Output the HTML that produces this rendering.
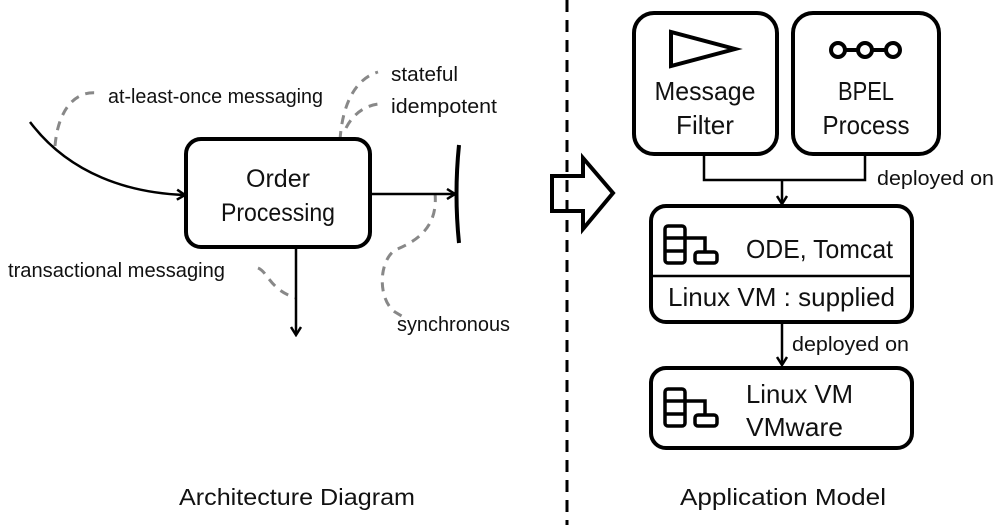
<!DOCTYPE html>
<html><head><meta charset="utf-8"><style>
html,body{margin:0;padding:0;background:#fff;width:1000px;height:525px;overflow:hidden}
svg{display:block}
text{font-family:"Liberation Sans",sans-serif;fill:#111}
</style></head><body>
<svg width="1000" height="525" viewBox="0 0 1000 525" xmlns="http://www.w3.org/2000/svg">
<defs>
<marker id="ah" markerWidth="12" markerHeight="12" refX="10" refY="6" orient="auto" markerUnits="userSpaceOnUse">
<path d="M2,1 L10,6 L2,11" fill="none" stroke="#000" stroke-width="2.5"/>
</marker>
</defs>
<line x1="567" y1="0" x2="567" y2="525" stroke="#000" stroke-width="3" stroke-dasharray="12,8"/>

<g fill="none" stroke="#888" stroke-width="3" stroke-dasharray="9,7">
<path d="M55,146 C58,110 75,90 98,93"/>
<path d="M340,140 C342,110 352,80 378,72"/>
<path d="M346,128 C355,110 370,105 378,104"/>
<path d="M258,268 C268,272 270,290 296,298"/>
<path d="M435,193 C438,225 420,240 395,250 C378,262 378,300 395,312 L405,318"/>
</g>

<path d="M30,122 C70,175 130,193 185,195" fill="none" stroke="#000" stroke-width="2.5" marker-end="url(#ah)"/>
<rect x="186" y="139" width="184" height="108" rx="15" fill="none" stroke="#000" stroke-width="4"/>
<g font-size="25" lengthAdjust="spacingAndGlyphs">
<text x="278" y="187" text-anchor="middle" textLength="64" lengthAdjust="spacingAndGlyphs">Order</text>
<text x="278" y="221" text-anchor="middle" textLength="114" lengthAdjust="spacingAndGlyphs">Processing</text>
</g>
<line x1="370" y1="194" x2="455" y2="194" stroke="#000" stroke-width="2.5" marker-end="url(#ah)"/>
<path d="M459,145 Q454,194 459,243" fill="none" stroke="#000" stroke-width="4"/>
<line x1="296" y1="248" x2="296" y2="335" stroke="#000" stroke-width="2.5" marker-end="url(#ah)"/>

<g font-size="20">
<text x="108" y="103" textLength="215" lengthAdjust="spacingAndGlyphs">at-least-once messaging</text>
<text x="391" y="81" textLength="67" lengthAdjust="spacingAndGlyphs">stateful</text>
<text x="391" y="113" textLength="106" lengthAdjust="spacingAndGlyphs">idempotent</text>
<text x="8" y="277" textLength="217" lengthAdjust="spacingAndGlyphs">transactional messaging</text>
<text x="397" y="331" textLength="113" lengthAdjust="spacingAndGlyphs">synchronous</text>
<text x="877" y="185" textLength="117" lengthAdjust="spacingAndGlyphs">deployed on</text>
<text x="792" y="351" textLength="117" lengthAdjust="spacingAndGlyphs">deployed on</text>
</g>

<path d="M552,176 L583,176 L583,158 L613,193 L583,229 L583,211 L552,211 Z" fill="#fff" stroke="#000" stroke-width="4"/>
<line x1="567" y1="160" x2="567" y2="228" stroke="#000" stroke-width="3" stroke-dasharray="12,8"/>

<rect x="634" y="13" width="143" height="141" rx="20" fill="none" stroke="#000" stroke-width="4"/>
<path d="M671,32 L671,66 L735,49 Z" fill="none" stroke="#000" stroke-width="4"/>
<rect x="793" y="13" width="146" height="141" rx="20" fill="none" stroke="#000" stroke-width="4"/>
<g fill="none" stroke="#000" stroke-width="4">
<circle cx="838" cy="50" r="7"/><circle cx="865" cy="50" r="7"/><circle cx="893" cy="50" r="7"/>
<line x1="845" y1="50" x2="858" y2="50"/><line x1="872" y1="50" x2="886" y2="50"/>
</g>
<g font-size="26">
<text x="705" y="100" text-anchor="middle" textLength="101" lengthAdjust="spacingAndGlyphs">Message</text>
<text x="705" y="134" text-anchor="middle" textLength="58" lengthAdjust="spacingAndGlyphs">Filter</text>
<text x="866" y="100" text-anchor="middle" textLength="56" lengthAdjust="spacingAndGlyphs">BPEL</text>
<text x="866" y="134" text-anchor="middle" textLength="87" lengthAdjust="spacingAndGlyphs">Process</text>
</g>

<path d="M704,155 L704,180 L865,180 L865,155" fill="none" stroke="#000" stroke-width="2.5"/>
<line x1="782" y1="180" x2="782" y2="204" stroke="#000" stroke-width="2.5" marker-end="url(#ah)"/>

<rect x="651" y="206" width="261" height="116" rx="15" fill="none" stroke="#000" stroke-width="4"/>
<line x1="651" y1="276" x2="912" y2="276" stroke="#000" stroke-width="2.5"/>
<g fill="none" stroke="#000" stroke-width="3.5">
<rect x="665" y="226" width="20" height="37" rx="3"/>
<line x1="665" y1="238" x2="685" y2="238"/><line x1="665" y1="251" x2="685" y2="251"/>
<path d="M685,238 L705,238 L705,252"/>
<rect x="695" y="252" width="22" height="11" rx="3"/>
</g>
<g font-size="26">
<text x="746" y="258" textLength="147" lengthAdjust="spacingAndGlyphs">ODE, Tomcat</text>
<text x="668" y="306" textLength="227" lengthAdjust="spacingAndGlyphs">Linux VM : supplied</text>
</g>

<line x1="782" y1="322" x2="782" y2="365" stroke="#000" stroke-width="2.5" marker-end="url(#ah)"/>

<rect x="651" y="368" width="261" height="80" rx="15" fill="none" stroke="#000" stroke-width="4"/>
<g fill="none" stroke="#000" stroke-width="3.5">
<rect x="665" y="389" width="20" height="37" rx="3"/>
<line x1="665" y1="401" x2="685" y2="401"/><line x1="665" y1="414" x2="685" y2="414"/>
<path d="M685,401 L705,401 L705,415"/>
<rect x="695" y="415" width="22" height="11" rx="3"/>
</g>
<g font-size="26">
<text x="746" y="403" textLength="107" lengthAdjust="spacingAndGlyphs">Linux VM</text>
<text x="746" y="436" textLength="97" lengthAdjust="spacingAndGlyphs">VMware</text>
</g>

<g font-size="23">
<text x="297" y="505" text-anchor="middle" textLength="236" lengthAdjust="spacingAndGlyphs">Architecture Diagram</text>
<text x="783" y="505" text-anchor="middle" textLength="206" lengthAdjust="spacingAndGlyphs">Application Model</text>
</g>
</svg>
</body></html>
